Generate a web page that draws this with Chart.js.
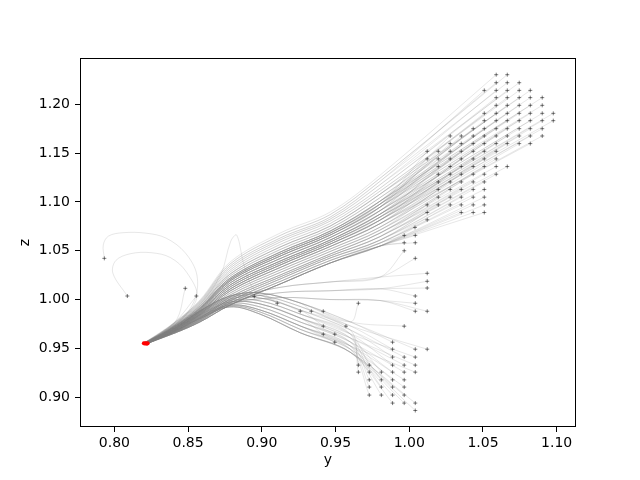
<!DOCTYPE html>
<html>
<head>
<meta charset="utf-8">
<script src="https://cdn.jsdelivr.net/npm/chart.js@4"></script>
<style>
  html, body { margin: 0; padding: 0; background: #fff; }
  #wrap { width: 640px; height: 480px; }
</style>
</head>
<body>
<div id="wrap"><canvas id="chart" width="640" height="480"></canvas></div>
<script>
// axis ticks
const xTicks = [0.80, 0.85, 0.90, 0.95, 1.00, 1.05, 1.10];
const yTicks = [0.90, 0.95, 1.00, 1.05, 1.10, 1.15, 1.20];

// end point of all trajectories (red)
const targetY = [0.8200, 0.8206, 0.8213, 0.8220, 0.8226];
const targetZ = [0.9553, 0.9549, 0.9551, 0.9548, 0.9552];

// waypoints of the main (upper) bundle, read along the band
const stationY = [0.9802, 0.9463, 0.9124, 0.8785, 0.8581, 0.8412];
const laneZ = [
  [1.1274, 1.0896, 1.0681, 1.0384, 0.9996, 0.9771],
  [1.1243, 1.0870, 1.0656, 1.0364, 0.9986, 0.9766],
  [1.1212, 1.0844, 1.0630, 1.0343, 0.9975, 0.9760],
  [1.1177, 1.0824, 1.0610, 1.0323, 0.9965, 0.9755],
  [1.1141, 1.0803, 1.0589, 1.0302, 0.9955, 0.9750],
  [1.1111, 1.0778, 1.0564, 1.0282, 0.9945, 0.9745],
  [1.1080, 1.0752, 1.0538, 1.0261, 0.9934, 0.9740],
  [1.1044, 1.0727, 1.0512, 1.0241, 0.9924, 0.9735],
  [1.1008, 1.0701, 1.0486, 1.0220, 0.9914, 0.9730],
  [1.0978, 1.0681, 1.0466, 1.0205, 0.9904, 0.9725],
  [1.0947, 1.0660, 1.0445, 1.0190, 0.9893, 0.9720],
  [1.0911, 1.0635, 1.0420, 1.0170, 0.9883, 0.9715],
  [1.0875, 1.0609, 1.0394, 1.0149, 0.9873, 0.9709],
  [1.0845, 1.0589, 1.0374, 1.0129, 0.9863, 0.9704],
  [1.0814, 1.0568, 1.0353, 1.0108, 0.9852, 0.9699],
  [1.0778, 1.0543, 1.0328, 1.0088, 0.9842, 0.9694],
  [1.0742, 1.0517, 1.0302, 1.0067, 0.9832, 0.9689],
  [1.0712, 1.0492, 1.0277, 1.0047, 0.9822, 0.9684],
  [1.0681, 1.0466, 1.0251, 1.0026, 0.9811, 0.9679],
  [1.0645, 1.0446, 1.0231, 1.0006, 0.9801, 0.9674],
  [1.0609, 1.0425, 1.0210, 0.9985, 0.9791, 0.9668],
  [1.0579, 1.0400, 1.0185, 0.9965, 0.9781, 0.9663],
  [1.0548, 1.0374, 1.0159, 0.9944, 0.9771, 0.9658],
  [1.0230, 1.0180, 1.0125, 0.9996, 0.9811, 0.9679],
  [1.0110, 1.0090, 1.0070, 0.9970, 0.9795, 0.9670],
  [0.9990, 1.0000, 1.0020, 0.9955, 0.9785, 0.9665]
];

// waypoints of the lower bundle
const lowerStationY = [0.9600, 0.9260, 0.8989, 0.8785, 0.8581, 0.8412];
const lowerLaneZ = [
  [0.9771, 0.9965, 1.0067, 1.0036, 0.9883, 0.9709],
  [0.9730, 0.9929, 1.0042, 1.0021, 0.9873, 0.9704],
  [0.9689, 0.9893, 1.0016, 1.0006, 0.9863, 0.9699],
  [0.9648, 0.9852, 0.9986, 0.9990, 0.9852, 0.9694],
  [0.9607, 0.9811, 0.9955, 0.9975, 0.9842, 0.9689],
  [0.9566, 0.9770, 0.9924, 0.9960, 0.9832, 0.9684],
  [0.9525, 0.9730, 0.9893, 0.9944, 0.9822, 0.9679],
  [0.9492, 0.9695, 0.9872, 0.9935, 0.9813, 0.9677],
  [0.9460, 0.9660, 0.9850, 0.9925, 0.9805, 0.9675]
];

// start points, upper grid (one z per row)
const upperRowZ = [1.2304, 1.2222, 1.2143, 1.2069, 1.1990, 1.1908, 1.1833, 1.1751, 1.1676, 1.1598,
  1.1519, 1.1441, 1.1363, 1.1284, 1.1205, 1.1128, 1.1049, 1.0970, 1.0892, 1.0817, 1.0739];
const upperRowY = [
  [1.0590, 1.0665],
  [1.0590, 1.0665, 1.0746],
  [1.0509, 1.0590, 1.0665, 1.0746, 1.0821],
  [1.0590, 1.0665, 1.0746, 1.0821, 1.0902],
  [1.0590, 1.0665, 1.0746, 1.0821, 1.0902],
  [1.0509, 1.0590, 1.0665, 1.0746, 1.0821, 1.0902, 1.0977],
  [1.0509, 1.0590, 1.0665, 1.0746, 1.0821, 1.0902, 1.0977],
  [1.0434, 1.0509, 1.0590, 1.0665, 1.0746, 1.0821, 1.0902],
  [1.0278, 1.0353, 1.0434, 1.0509, 1.0590, 1.0665, 1.0746, 1.0821, 1.0902],
  [1.0278, 1.0353, 1.0434, 1.0509, 1.0590, 1.0665, 1.0746, 1.0821],
  [1.0122, 1.0197, 1.0278, 1.0353, 1.0434, 1.0509, 1.0590],
  [1.0122, 1.0197, 1.0278, 1.0353, 1.0434, 1.0509, 1.0590],
  [1.0197, 1.0278, 1.0353, 1.0434, 1.0509, 1.0590, 1.0665],
  [1.0197, 1.0278, 1.0353, 1.0434, 1.0509, 1.0590],
  [1.0197, 1.0278, 1.0353, 1.0434, 1.0509],
  [1.0197, 1.0278, 1.0353, 1.0434, 1.0509],
  [1.0197, 1.0278, 1.0353, 1.0434, 1.0509],
  [1.0122, 1.0197, 1.0278, 1.0353, 1.0434, 1.0509],
  [1.0122, 1.0353, 1.0434, 1.0509],
  [1.0122],
  [1.0039]
];
const upperRowLane = [
  [0, 1],
  [1, 2, 3],
  [2, 3, 4, 5, 6],
  [4, 5, 6, 7, 8],
  [6, 7, 8, 8, 9],
  [6, 7, 8, 9, 10, 11, 12],
  [8, 9, 9, 10, 11, 12, 13],
  [8, 9, 10, 11, 12, 13, 14],
  [8, 9, 10, 10, 11, 12, 13, 14, 15],
  [9, 10, 11, 12, 13, 14, 15, 15],
  [9, 10, 11, 12, 12, 13, 14],
  [10, 11, 12, 13, 14, 15, 16],
  [13, 14, 14, 15, 16, 17, 18],
  [14, 15, 16, 17, 18, 19],
  [15, 16, 17, 18, 19],
  [17, 18, 19, 20, 20],
  [18, 19, 20, 21, 22],
  [19, 20, 21, 21, 22, 22],
  [20, 22, 22, 22],
  [21],
  [22]
];

// start points on the right side, between the two groups
const sideY = [0.9966, 1.0041, 0.9966, 1.0041, 0.9966, 1.0041, 1.0122, 1.0122, 1.0122, 1.0041, 1.0041, 1.0041, 1.0122];
const sideZ = [1.0657, 1.0657, 1.0582, 1.0582, 1.0500, 1.0422, 1.0269, 1.0187, 1.0118, 1.0036, 0.9962, 0.9880, 0.9880];
const sideLane = [21, 22, 22, 22, 23, 23, 23, 24, 24, 24, 25, 25, 25];

// start points, lower group
const lowerY = [0.9887, 0.9887, 1.0041, 1.0122, 0.9887, 0.9966, 1.0041, 0.9655, 0.9729, 0.9887, 0.9966, 1.0041,
  0.9655, 0.9729, 0.9811, 0.9887, 0.9966, 1.0041, 0.9729, 0.9811, 0.9887, 0.9966,
  0.9729, 0.9811, 0.9887, 0.9966, 0.9729, 0.9811, 0.9887, 0.9966, 0.9887, 0.9966, 1.0041, 1.0041,
  0.9966, 0.9655, 0.9571, 0.9495, 0.9417, 0.9495, 0.9417, 0.9417, 0.9336, 0.9261, 0.9105, 0.8949];
const lowerZ = [0.9563, 0.9491, 0.9491, 0.9491, 0.9410, 0.9410, 0.9410, 0.9328, 0.9328, 0.9328, 0.9328, 0.9328,
  0.9256, 0.9256, 0.9256, 0.9256, 0.9256, 0.9256, 0.9177, 0.9177, 0.9177, 0.9177,
  0.9103, 0.9103, 0.9103, 0.9103, 0.9021, 0.9021, 0.9021, 0.9021, 0.8939, 0.8939, 0.8939, 0.8863,
  0.9727, 0.9962, 0.9727, 0.9563, 0.9645, 0.9645, 0.9727, 0.9880, 0.9880, 0.9880, 0.9962, 1.0033];
const lowerLane = [0, 1, 0, 1, 2, 2, 3, 2, 3, 3, 4, 4,
  3, 4, 4, 5, 5, 6, 5, 5, 6, 6,
  6, 6, 7, 7, 7, 7, 8, 8, 8, 8, 8, 8,
  0, 0, 1, 6, 4, 4, 2, 0, 0, 1, 0, 0];

// stray start points on the left, with their looping paths
const loop1Y = [0.7932, 0.7925, 0.7960, 0.8060, 0.8215, 0.8350, 0.8480, 0.8560, 0.8540, 0.8412];
const loop1Z = [1.0422, 1.0560, 1.0650, 1.0685, 1.0680, 1.0630, 1.0480, 1.0250, 0.9980, 0.9740];
const loop2Y = [0.8088, 0.7990, 0.8010, 0.8110, 0.8250, 0.8380, 0.8490, 0.8560, 0.8412];
const loop2Z = [1.0036, 1.0270, 1.0400, 1.0470, 1.0480, 1.0430, 1.0280, 1.0020, 0.9740];
const spikeY = [0.9105, 0.8950, 0.8880, 0.8830, 0.8790, 0.8720, 0.8581, 0.8412];
const spikeZ = [0.9962, 1.0100, 1.0350, 1.0660, 1.0600, 1.0250, 0.9950, 0.9720];
const strayY = [0.8481, 0.8556];
const strayZ = [1.0115, 1.0036];

// start point + the lane waypoints lying left of it + end point
function path(y0, z0, ys, zs, t) {
  const pts = [{ x: y0, y: z0 }];
  ys.forEach((y, i) => { if (y < y0 - 0.004) pts.push({ x: y, y: zs[i] }); });
  pts.push({ x: targetY[t], y: targetZ[t] });
  return pts;
}
function fixedPath(ys, zs, t) {
  const pts = ys.map((y, i) => ({ x: y, y: zs[i] }));
  pts.push({ x: targetY[t], y: targetZ[t] });
  return pts;
}

const lineStyle = {
  showLine: true, pointRadius: 0, borderWidth: 0.8, tension: 0.35,
  borderColor: 'rgba(128,128,128,0.24)', fill: false, order: 2
};

const datasets = [];
const starts = [];
let k = 0;

upperRowZ.forEach((z, r) => {
  upperRowY[r].forEach((y, j) => {
    datasets.push({ ...lineStyle, data: path(y, z, stationY, laneZ[upperRowLane[r][j]], k++ % 5) });
    starts.push({ x: y, y: z });
  });
});
sideY.forEach((y, i) => {
  datasets.push({ ...lineStyle, data: path(y, sideZ[i], stationY, laneZ[sideLane[i]], k++ % 5) });
  starts.push({ x: y, y: sideZ[i] });
});
lowerY.forEach((y, i) => {
  datasets.push({ ...lineStyle, data: path(y, lowerZ[i], lowerStationY, lowerLaneZ[lowerLane[i]], k++ % 5) });
  starts.push({ x: y, y: lowerZ[i] });
});
[[loop1Y, loop1Z], [loop2Y, loop2Z], [spikeY, spikeZ]].forEach(([ys, zs], i) => {
  datasets.push({ ...lineStyle, data: fixedPath(ys, zs, i) });
});
starts.push({ x: loop1Y[0], y: loop1Z[0] }, { x: loop2Y[0], y: loop2Z[0] });
strayY.forEach((y, i) => {
  datasets.push({ ...lineStyle, data: path(y, strayZ[i], stationY, laneZ[0], i) });
  starts.push({ x: y, y: strayZ[i] });
});

datasets.push({
  data: starts, pointStyle: 'cross', pointRadius: 2, borderWidth: 1,
  borderColor: 'rgba(0,0,0,0.5)', backgroundColor: 'rgba(0,0,0,0.5)', order: 1
});
datasets.push({
  data: targetY.map((y, i) => ({ x: y, y: targetZ[i] })),
  pointStyle: 'circle', pointRadius: 2, borderWidth: 0,
  backgroundColor: '#ff0000', order: 0
});

const frame = {
  id: 'frame',
  afterDatasetsDraw(chart) {
    const { ctx, chartArea: a } = chart;
    ctx.save();
    ctx.strokeStyle = '#000';
    ctx.lineWidth = 1;
    ctx.strokeRect(a.left + 0.5, a.top + 0.5, a.right - a.left - 1, a.bottom - a.top - 1);
    ctx.restore();
  }
};

const font = { family: 'DejaVu Sans', size: 14 };

new Chart(document.getElementById('chart'), {
  type: 'scatter',
  data: { datasets },
  options: {
    responsive: false,
    animation: false,
    events: [],
    layout: { padding: { left: 0, right: 64, top: 58, bottom: 0 } },
    plugins: { legend: { display: false }, tooltip: { enabled: false } },
    scales: {
      x: {
        type: 'linear', min: 0.7767, max: 1.1131,
        afterBuildTicks: s => { s.ticks = xTicks.map(v => ({ value: v })); },
        afterFit: s => { s.height = 53; },
        grid: { display: true, drawOnChartArea: false, drawTicks: true, tickLength: 5, color: '#000' },
        border: { display: false },
        ticks: { color: '#000', font, padding: 3, maxRotation: 0, callback: v => v.toFixed(2) },
        title: { display: true, text: 'y', color: '#000', font, padding: { top: 0, bottom: 11 } }
      },
      y: {
        type: 'linear', min: 0.8694, max: 1.2475,
        afterBuildTicks: s => { s.ticks = yTicks.map(v => ({ value: v })); },
        afterFit: s => { s.width = 80; },
        grid: { display: true, drawOnChartArea: false, drawTicks: true, tickLength: 5, color: '#000' },
        border: { display: false },
        ticks: { color: '#000', font, padding: 5, callback: v => v.toFixed(2) },
        title: { display: true, text: 'z', color: '#000', font, padding: { top: 17, bottom: 0 } }
      }
    }
  },
  plugins: [frame]
});
</script>
</body>
</html>
